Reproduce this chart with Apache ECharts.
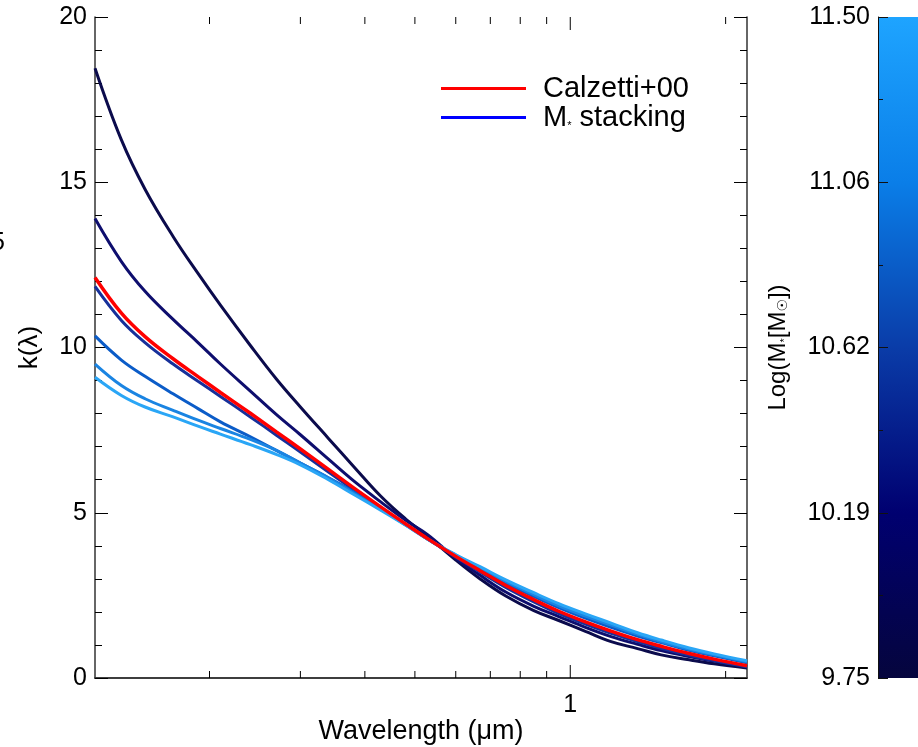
<!DOCTYPE html>
<html>
<head>
<meta charset="utf-8">
<script src="https://cdn.jsdelivr.net/npm/echarts@6/dist/echarts.min.js"></script>
<style>
  html, body { margin: 0; padding: 0; background: #fff; }
  #chart { width: 918px; height: 747px; }
</style>
</head>
<body>
<div id="chart"></div>
<script>
// wavelengths (micron) shared by every curve, roughly even in log
const wavelength = [0.12, 0.135, 0.15, 0.17, 0.19, 0.21, 0.24, 0.27, 0.3, 0.34, 0.38, 0.43, 0.48, 0.53, 0.6, 0.67, 0.75, 0.85, 0.95, 1.07, 1.2, 1.35, 1.5, 1.7, 1.9, 2.2]
// Calzetti+00 curve
const kCalzetti = [12.12, 11.04, 10.33, 9.66, 9.12, 8.64, 8.01, 7.44, 6.93, 6.31, 5.76, 5.17, 4.66, 4.21, 3.68, 3.24, 2.8, 2.37, 2.02, 1.7, 1.42, 1.16, 0.96, 0.74, 0.57, 0.37]
// stacking curves, lowest mass (darkest) first
const kStack1 = [18.45, 16.28, 14.79, 13.36, 12.24, 11.28, 10.06, 9.03, 8.2, 7.25, 6.41, 5.49, 4.81, 4.28, 3.57, 2.99, 2.48, 2.04, 1.74, 1.41, 1.1, 0.89, 0.7, 0.55, 0.43, 0.3]
const kStack2 = [13.9, 12.6, 11.7, 10.85, 10.15, 9.5, 8.68, 7.96, 7.36, 6.62, 5.97, 5.32, 4.77, 4.33, 3.62, 3.1, 2.6, 2.17, 1.86, 1.53, 1.25, 1.02, 0.83, 0.65, 0.51, 0.34]
const kStack3 = [11.85, 10.82, 10.15, 9.5, 8.98, 8.52, 7.9, 7.34, 6.84, 6.23, 5.7, 5.12, 4.63, 4.2, 3.66, 3.2, 2.74, 2.3, 1.95, 1.63, 1.35, 1.1, 0.9, 0.69, 0.53, 0.34]
const kStack4 = [10.35, 9.62, 9.13, 8.6, 8.15, 7.75, 7.3, 6.88, 6.5, 6.06, 5.64, 5.12, 4.65, 4.2, 3.7, 3.3, 2.88, 2.47, 2.13, 1.81, 1.53, 1.27, 1.07, 0.84, 0.67, 0.46]
const kStack5 = [9.5, 8.85, 8.45, 8.1, 7.8, 7.55, 7.22, 6.88, 6.5, 6.05, 5.6, 5.1, 4.64, 4.2, 3.72, 3.32, 2.92, 2.52, 2.18, 1.87, 1.6, 1.32, 1.1, 0.87, 0.7, 0.49]
const kStack6 = [9.1, 8.55, 8.2, 7.9, 7.62, 7.38, 7.06, 6.76, 6.45, 6.0, 5.56, 5.07, 4.62, 4.19, 3.73, 3.36, 2.97, 2.58, 2.25, 1.94, 1.66, 1.37, 1.15, 0.91, 0.73, 0.52]
const stackColors = ['#0b0b4c', '#0e0e6e', '#17309a', '#0b5cc8', '#1a84e2', '#2aa6f6']
// x ticks on the log axis
const xTicks = [0.2, 0.3, 0.4, 0.5, 0.6, 0.7, 0.8, 0.9, 1, 2]
const xMajor = [1]
// colour bar
const cbMin = 9.75
const cbMax = 11.5
const cbLabels = ['9.75', '10.19', '10.62', '11.06', '11.50']
const cbStops = ['#05053d', '#000070', '#0a3ca8', '#0a7ee8', '#1ea4ff']

const font = 'Liberation Sans, Arial, Helvetica, sans-serif'
const axisColor = '#333'
const chart = echarts.init(document.getElementById('chart'))

const pairs = (ys) => wavelength.map((x, i) => [x, ys[i]])
const stackSeries = [kStack1, kStack2, kStack3, kStack4, kStack5, kStack6].map((ys, i) => ({
  name: 'stack' + (i + 1),
  type: 'line',
  data: pairs(ys),
  showSymbol: false,
  smooth: 0.4,
  lineStyle: { color: stackColors[i], width: 3 },
  itemStyle: { color: stackColors[i] },
  z: 3
}))

const cbStep = (cbMax - cbMin) / (cbLabels.length - 1)

chart.setOption({
  animation: false,
  textStyle: { fontFamily: font },
  grid: [
    { left: 95, right: 171, top: 17, bottom: 69, outerBoundsMode: 'none', containLabel: false },
    { left: 878, right: -40, top: 17, bottom: 69, outerBoundsMode: 'none', containLabel: false }
  ],
  legend: {
    orient: 'vertical',
    left: 441,
    top: 74,
    padding: 0,
    itemWidth: 85,
    itemHeight: 3,
    itemGap: 0,
    icon: 'rect',
    data: ['Calzetti+00', 'M* stacking'],
    formatter: (n) => (n === 'M* stacking' ? 'M{s|*} stacking' : n),
    textStyle: {
      fontFamily: font,
      fontSize: 29,
      lineHeight: 28,
      color: '#000',
      padding: [0, 0, 0, 12],
      rich: { s: { fontSize: 11, verticalAlign: 'bottom', lineHeight: 20, fontFamily: font } }
    }
  },
  xAxis: [
    {
      type: 'log', logBase: 10, min: 0.12, max: 2.2, gridIndex: 0,
      axisLine: { lineStyle: { color: axisColor, width: 1.5 } },
      axisTick: { show: false },
      splitLine: { show: false },
      axisLabel: {
        fontSize: 25, color: '#000', margin: 15, fontFamily: font,
        formatter: (v) => (Math.abs(v - 1) < 1e-6 ? '1' : '')
      },
      name: 'Wavelength (μm)',
      nameLocation: 'middle',
      nameMoveOverlap: false,
      nameGap: 40,
      nameTextStyle: { fontSize: 27, color: '#000', fontFamily: font }
    },
    {
      type: 'log', logBase: 10, min: 0.12, max: 2.2, gridIndex: 0, position: 'top',
      axisLine: { lineStyle: { color: axisColor, width: 1.5 } },
      axisTick: { show: false }, axisLabel: { show: false }, splitLine: { show: false }
    },
    { type: 'value', min: 0, max: 1, gridIndex: 1, show: false }
  ],
  yAxis: [
    {
      type: 'value', min: 0, max: 20, interval: 5, gridIndex: 0,
      axisLine: { show: true, lineStyle: { color: axisColor, width: 1.5 } },
      axisTick: { show: true, inside: true, length: 13, lineStyle: { color: '#000' } },
      minorTick: { show: true, splitNumber: 5, length: 7, lineStyle: { color: '#000' } },
      splitLine: { show: false },
      axisLabel: { fontSize: 25, color: '#000', margin: 8, fontFamily: font },
      name: 'k(λ)',
      nameLocation: 'middle',
      nameGap: 52,
      nameTextStyle: { fontSize: 26, color: '#000', fontFamily: font }
    },
    {
      type: 'value', min: 0, max: 20, interval: 5, gridIndex: 0, position: 'right',
      axisLine: { show: true, lineStyle: { color: axisColor, width: 1.5 } },
      axisTick: { show: true, inside: true, length: 13, lineStyle: { color: '#000' } },
      minorTick: { show: true, splitNumber: 5, length: 7, lineStyle: { color: '#000' } },
      splitLine: { show: false },
      axisLabel: { show: false }
    },
    {
      type: 'value', min: cbMin, max: cbMax, interval: cbStep, gridIndex: 1, position: 'left', z: 5,
      axisLine: { show: true, lineStyle: { color: '#111', width: 1 } },
      axisTick: { show: true, inside: true, length: 10, lineStyle: { color: '#111' } },
      minorTick: { show: true, splitNumber: 2, length: 5, lineStyle: { color: '#111' } },
      splitLine: { show: false },
      axisLabel: {
        fontSize: 25, color: '#000', margin: 8, fontFamily: font,
        formatter: (v) => cbLabels[Math.round((v - cbMin) / cbStep)] || ''
      },
      name: 'Log(M{s|*}[M{o|☉}])',
      nameLocation: 'middle',
      nameGap: 88,
      nameTextStyle: {
        fontSize: 24, color: '#000', fontFamily: font,
        rich: {
          s: { fontSize: 11, verticalAlign: 'bottom', fontFamily: font },
          o: { fontSize: 14, verticalAlign: 'bottom', fontFamily: 'DejaVu Sans' }
        }
      }
    }
  ],
  graphic: [
    { type: 'text', left: -9, top: 231, style: { text: '5', fontSize: 25, fontFamily: font, fill: '#000' } }
  ],
  series: [
    // log-axis tick marks, bottom and top
    {
      type: 'custom',
      xAxisIndex: 0, yAxisIndex: 0,
      data: xTicks.map((v) => [v, xMajor.includes(v) ? 1 : 0]),
      silent: true,
      z: 4,
      renderItem: (params, api) => {
        const bottom = api.coord([api.value(0), 0])
        const top = api.coord([api.value(0), 20])
        const len = api.value(1) ? 13 : 7
        const style = { stroke: '#000', lineWidth: 1 }
        return {
          type: 'group',
          children: [
            { type: 'line', shape: { x1: bottom[0], y1: bottom[1], x2: bottom[0], y2: bottom[1] - len }, style },
            { type: 'line', shape: { x1: top[0], y1: top[1], x2: top[0], y2: top[1] + len }, style }
          ]
        }
      }
    },
    ...stackSeries,
    {
      name: 'Calzetti+00',
      type: 'line',
      data: pairs(kCalzetti),
      showSymbol: false,
      smooth: 0.4,
      lineStyle: { color: '#ff0000', width: 3.5 },
      itemStyle: { color: '#ff0000' },
      z: 4
    },
    {
      name: 'M* stacking',
      type: 'line',
      data: [],
      lineStyle: { color: '#0000ff', width: 3 },
      itemStyle: { color: '#0000ff' }
    },
    // colour bar
    {
      type: 'custom',
      xAxisIndex: 2, yAxisIndex: 2,
      data: [[0, cbMin, 1, cbMax]],
      silent: true,
      renderItem: (params, api) => {
        const p0 = api.coord([api.value(0), api.value(3)])
        const p1 = api.coord([api.value(2), api.value(1)])
        return {
          type: 'rect',
          shape: { x: p0[0], y: p0[1], width: p1[0] - p0[0], height: p1[1] - p0[1] },
          style: {
            fill: {
              type: 'linear', x: 0, y: 1, x2: 0, y2: 0,
              colorStops: cbStops.map((c, i) => ({ offset: i / (cbStops.length - 1), color: c }))
            }
          }
        }
      }
    }
  ]
})
</script>
</body>
</html>
